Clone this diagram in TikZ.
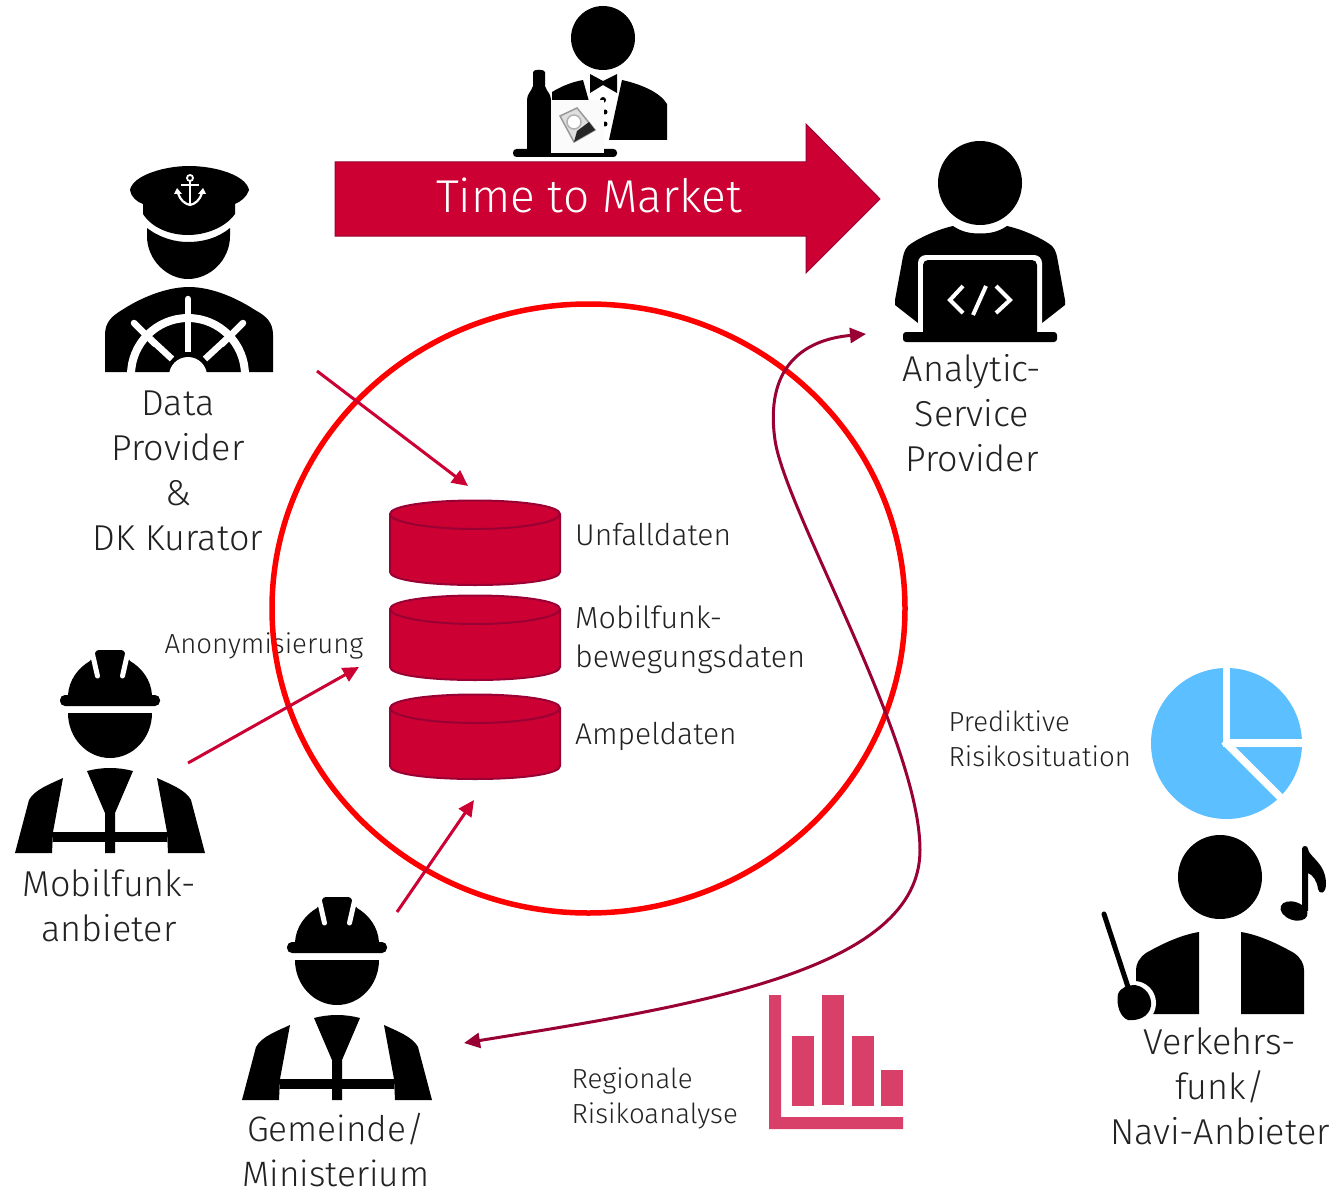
\documentclass[tikz,border=0pt]{standalone}
\usepackage{fontspec}
\setmainfont{Fira Sans Light}
\usepackage{tikz}
\usetikzlibrary{arrows.meta, positioning}
\definecolor{rot}{HTML}{CC0033}
\definecolor{dunkelrot}{HTML}{990033}
\definecolor{kreisrot}{HTML}{FF0000}
\definecolor{blau}{HTML}{5CBFFF}
\definecolor{rosa}{HTML}{D94069}
\definecolor{schrift}{HTML}{222222}
\tikzstyle{gross}=
[
	align=center
	,text=schrift
	,font=\fontsize{36}{45}\selectfont
	,inner sep=0pt
]
\tikzstyle{mittel}=
[
	align=left
	,anchor=west
	,text=schrift
	,font=\fontsize{30}{39}\selectfont
	,inner sep=0pt
]
\tikzstyle{klein}=
[
	align=left
	,anchor=west
	,text=schrift
	,font=\fontsize{27.6}{35}\selectfont
	,inner sep=0pt
]
\tikzstyle{arrow} = [line width=3pt,-{Triangle[length=16pt,width=15pt]},draw=rot]
\tikzstyle{kurve} = [line width=3pt,{Triangle[length=16pt,width=15pt]}-{Triangle[length=16pt,width=15pt]},draw=dunkelrot]
\tikzstyle{luecke} = [white,line width=5pt,line cap=round]
\tikzset{
	zylinder/.pic={
		\filldraw[fill=rot,draw=dunkelrot,line width=2pt] (-85,-29) -- (-85,29) .. controls (-85,37) and (-47,42) .. (0,42) .. controls (47,42) and (85,37) .. (85,29) -- (85,-29) .. controls (85,-37) and (47,-42.5) .. (0,-42.5) .. controls (-47,-42.5) and (-85,-37) .. (-85,-29) -- cycle;
		\draw[draw=dunkelrot,line width=2pt] (-85,-29) .. controls (-85,-21) and (-47,-14) .. (0,-14) .. controls (47,-14) and (85,-21) .. (85,-29);
	},
	arbeiter/.pic={
		\fill (-42,55) .. controls (-41,40) and (-32,28) .. (-20,21) -- (-15,13) .. controls (-14,11) and (-13,10) .. (-11,10) -- (11,10) .. controls (13,10) and (14,11) .. (15,13) -- (20,21) .. controls (32,28) and (41,40) .. (42,55) -- cycle;
		\draw[luecke] (-17.5,14) -- (-12.5,36);
		\draw[luecke] (17.5,14) -- (12.5,36);
		\fill[rounded corners=5pt] (-50,55) rectangle (50,66);
		\fill (-42,73) -- (42,73) .. controls (42,98) and (23,118) .. (0,118) .. controls (-23,118) and (-42,98) .. (-42,73) -- cycle;
		\fill (-23,131) .. controls (-8,127) and (8,127) .. (23,131) -- (5,173) -- (5,213) -- (-5,213) -- (-5,173) -- cycle;
		\fill (-57,192) rectangle (57,202);
		\fill (-47,138) .. controls (-60,144) and (-76,150) .. (-81,160) -- (-95,213) -- (-58,213) -- (-57,192) -- cycle;
		\fill (47,138) .. controls (60,144) and (76,150) .. (81,160) -- (95,213) -- (58,213) -- (57,192) -- cycle;
	}
}
\begin{document}
\begin{tikzpicture}[x=1pt,y=-1pt]
\useasboundingbox (0,0) rectangle (1338,1193);

\fill[fill=rot,draw=dunkelrot,line width=1pt] (335,162) -- (806,162) -- (806,124) -- (880,199) -- (806,273) -- (806,236) -- (335,236) -- cycle;
\node(ttm)[text=white,font=\fontsize{46}{50}\selectfont,inner sep=0pt] at (589,195.5) {Time to Market};

\fill (603,38) circle (32pt);
\fill (590,74) -- (603,81) -- (617,74) -- (617,93) -- (603,85) -- (590,93) -- cycle;
\fill (552,92) .. controls (562,86) and (572,82) .. (583,80) -- (590,105) -- (552,105) -- cycle;
\fill (622,80) .. controls (640,84) and (660,92) .. (667,104) -- (667,140) -- (609,140) -- cycle;
\fill (603,100) circle (3pt);
\fill (605,112) circle (2.5pt);
\fill (605,124) circle (2.5pt);
\fill[rounded corners=3.5pt] (513,149) rectangle (617,157);
\fill (533,72) .. controls (533,69) and (545,69) .. (545,72) -- (545,86) .. controls (547,92) and (551,94) .. (551,100) -- (551,150) -- (527,150) -- (527,100) .. controls (527,94) and (531,92) .. (533,86) -- cycle;
\fill[gray!3] (551,100) rectangle (604,153);
\filldraw[fill=gray!25,draw=gray!80,line width=1.5pt] (560,116) -- (577,108) -- (595,130) -- (574,142) -- cycle;
\fill[black!85] (577,131) -- (589,122) -- (595,130) -- (574,142) -- cycle;
\filldraw[fill=white,draw=gray!60,line width=1.5pt] (574,122) circle (7pt);

\fill (130,190) .. controls (133,175) and (165,166) .. (189,166) .. controls (215,166) and (246,175) .. (249,190) .. controls (247,197) and (240,202) .. (235,204) -- (235,214) .. controls (225,228) and (205,235) .. (188,235) .. controls (170,235) and (152,228) .. (143,214) -- (143,204) .. controls (137,202) and (131,197) .. (130,190) -- cycle;
\draw[white,line width=1.8pt] (190,178) circle (3pt);
\draw[white,line width=2.2pt] (190,181) -- (190,204);
\draw[white,line width=2.2pt] (181,185) -- (199,185);
\draw[white,line width=2.2pt] (178,193) .. controls (180,200) and (185,204) .. (190,205) .. controls (195,204) and (200,200) .. (202,193);
\fill[white] (174,194) -- (182,194) -- (177,188) -- cycle;
\fill[white] (206,194) -- (198,194) -- (203,188) -- cycle;
\fill (147,228) .. controls (160,238) and (175,242) .. (188,242) .. controls (203,242) and (218,238) .. (230,228) -- (230,236) .. controls (230,260) and (210,279) .. (188,279) .. controls (167,279) and (147,260) .. (147,236) -- cycle;
\fill (105,372) -- (105,335) .. controls (105,322) and (112,316) .. (122,310) .. controls (145,295) and (170,287) .. (189,287) .. controls (208,287) and (232,295) .. (255,310) .. controls (266,316) and (273,322) .. (273,335) -- (273,372) -- cycle;
\begin{scope}
\clip (105,250) rectangle (273,372);
\draw[white,line width=8pt] (188,375) circle (57pt);
\draw[white,line width=6.5pt,line cap=round] (188,299) -- (188,340);
\draw[white,line width=6.5pt] (188,330) -- (188,352);
\draw[white,line width=6.5pt,line cap=round] (134,323) -- (155,344);
\draw[white,line width=6.5pt] (145,334) -- (172,359);
\draw[white,line width=6.5pt,line cap=round] (243,323) -- (222,344);
\draw[white,line width=6.5pt] (232,334) -- (205,359);
\fill[white] (188,376) circle (19pt);
\end{scope}

\fill (980,183) circle (42pt);
\fill (953,226) .. controls (962,232) and (970,233.5) .. (980,233.5) .. controls (990,233.5) and (998,232) .. (1007,226) .. controls (1025,230) and (1045,240) .. (1052,246) .. controls (1056,250) and (1057,256) .. (1058,262) -- (1065,300) -- (1065,305) -- (1042,323) -- (918,323) -- (895,305) -- (895,300) -- (902,262) .. controls (903,256) and (904,250) .. (908,246) .. controls (915,240) and (935,230) .. (953,226) -- cycle;
\fill[white,rounded corners=8pt] (918,255) -- (1042,255) -- (1042,332) -- (918,332) -- cycle;
\fill[rounded corners=5pt] (923,260) -- (1037,260) -- (1037,340) -- (923,340) -- cycle;
\fill[rounded corners=3pt] (903,332) -- (1057,332) -- (1057,342) -- (903,342) -- cycle;
\draw[white,line width=4pt] (963,286) -- (950,300) -- (963,313);
\draw[white,line width=4pt] (986,286) -- (973,315);
\draw[white,line width=4pt] (996,286) -- (1010,300) -- (996,313);

\pic at (110,640) {arbeiter};
\pic at (337,887) {arbeiter};

\fill[blau] (1226.5,743.5) circle (75.5pt);
\draw[white,line width=7.5pt] (1226.3,660) -- (1226.3,747);
\draw[white,line width=7.5pt] (1223,743) -- (1310,743);
\draw[white,line width=7.5pt] (1224,741) -- (1290,807);

\fill (1220,877) circle (42pt);
\fill (1199,932) .. controls (1180,935) and (1160,945) .. (1146,953) .. controls (1139,958) and (1136,964) .. (1136,970) -- (1136,1014) -- (1199,1014) -- cycle;
\fill (1241,932) .. controls (1260,935) and (1280,945) .. (1294,953) .. controls (1301,958) and (1304,964) .. (1304,970) -- (1304,1014) -- (1241,1014) -- cycle;
\draw[white,line width=10pt] (1134,1003) circle (17pt);
\draw[line width=5pt,line cap=round] (1104,914) -- (1129,990);
\fill (1118,994) .. controls (1121,987) and (1128,985) .. (1135,985) .. controls (1146,987) and (1152,996) .. (1151,1006) .. controls (1149,1017) and (1138,1021) .. (1128,1020) .. controls (1120,1017) and (1116,1005) .. (1118,994) -- cycle;
\fill[rotate around={-20:(1294,911)}] (1294,911) ellipse (14pt and 9pt);
\fill (1302,911) -- (1302,849) .. controls (1302,845) and (1308,845) .. (1308,849) .. controls (1309,857) and (1326,863) .. (1326,884) .. controls (1326,894) and (1319,895) .. (1318,889) .. controls (1317,881) and (1313,875) .. (1308,873) -- (1308,911) -- cycle;

\fill[rosa] (769,995) -- (781,995) -- (781,1117) -- (903,1117) -- (903,1129) -- (769,1129) -- cycle;
\fill[rosa] (792,1036) rectangle (814,1106);
\fill[rosa] (822,995) rectangle (844,1105);
\fill[rosa] (852,1036) rectangle (874,1106);
\fill[rosa] (881,1070) rectangle (903,1106);

\node(dp)[gross] at (178,471) {Data\\Provider\\\&\\DK Kurator};
\node(asp)[gross] at (972,413) {Analytic-\\Service\\Provider};
\node(mfa)[gross] at (109,905.5) {Mobilfunk-\\anbieter};
\node(gem)[gross,font=\fontsize{35.3}{45}\selectfont] at (336,1150.5) {Gemeinde/\\Ministerium};
\node(vf)[gross] at (1220,1086) {Verkehrs-\\funk/\\Navi-Anbieter};
\node(anon)[klein] at (164.5,646) {Anonymisierung};
\node(pred)[klein] at (948.5,739) {Prediktive\\Risikosituation};
\node(reg)[klein] at (571.5,1098) {Regionale\\Risikoanalyse};

\pic at (475,543) {zylinder};
\pic at (475,638) {zylinder};
\pic at (475,737) {zylinder};
\node(l1)[mittel] at (575,535) {Unfalldaten};
\node(l2)[mittel,font=\fontsize{30.5}{39}\selectfont] at (575,640) {Mobilfunk-\\bewegungsdaten};
\node(l3)[mittel] at (575,736) {Ampeldaten};

\draw[kreisrot,line width=5.5pt] (588.5,608.5) ellipse (316.5pt and 304.5pt);

\coordinate (a1) at (317,371);
\coordinate (b1) at (468,486);
\coordinate (a2) at (188,763);
\coordinate (b2) at (359,667);
\coordinate (a3) at (397,912);
\coordinate (b3) at (474,800);
\coordinate (k1) at (866,334);
\coordinate (k2) at (464,1043);

\draw[arrow](a1)--(b1);
\draw[arrow](a2)--(b2);
\draw[arrow](a3)--(b3);
\draw[kurve](k1) .. controls (800,340) and (765,370) .. (775,440) .. controls (785,510) and (920,740) .. (920,850) .. controls (920,970) and (700,1005) .. (k2);
\end{tikzpicture}
\end{document}
